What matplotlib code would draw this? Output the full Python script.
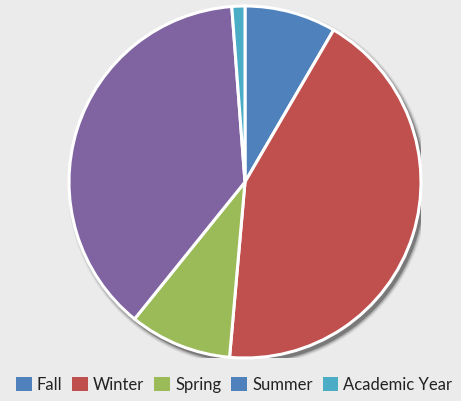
import matplotlib.pyplot as plt
from matplotlib.patches import Circle, Patch

labels = ['Fall', 'Winter', 'Spring', 'Summer', 'Academic Year']
values = [8.4, 43.0, 9.4, 38.0, 1.2]
colors = ['#4f81bd', '#c0504d', '#9bbb59', '#8064a2', '#4bacc6']
legend_colors = ['#4f81bd', '#c0504d', '#9bbb59', '#4f81bd', '#4bacc6']

plt.rcParams['font.family'] = ['Lato', 'DejaVu Sans']

fig = plt.figure(figsize=(4.61, 4.01), dpi=100, facecolor='#ebebeb')
ax = fig.add_axes([69 / 461, 43 / 401, 352 / 461, 352 / 401])
ax.set_facecolor('#ebebeb')

# soft drop shadow
for i, a in enumerate([0.05, 0.08, 0.12, 0.18, 0.3]):
    r = 1.0 + 0.025 - i * 0.005
    ax.add_patch(Circle((0.016, -0.02), r, color='#222222', alpha=a, lw=0, zorder=0))

ax.pie(values, colors=colors, startangle=90, counterclock=False, radius=1.0,
       wedgeprops=dict(edgecolor='white', linewidth=2.2, zorder=2))
ax.set_xlim(-1, 1)
ax.set_ylim(-1, 1)
ax.set_aspect('equal')
ax.axis('off')

handles = [Patch(facecolor=c, edgecolor='none') for c in legend_colors]
leg = fig.legend(handles, labels, loc='center', bbox_to_anchor=(234 / 461, 1 - 385 / 401),
                 ncol=5, frameon=False, fontsize=12, handlelength=0.95, handleheight=0.95,
                 handletextpad=0.3, columnspacing=0.6, borderpad=0)
for t in leg.get_texts():
    t.set_color('#222222')

fig.savefig('out.png', dpi=100, facecolor='#ebebeb')
